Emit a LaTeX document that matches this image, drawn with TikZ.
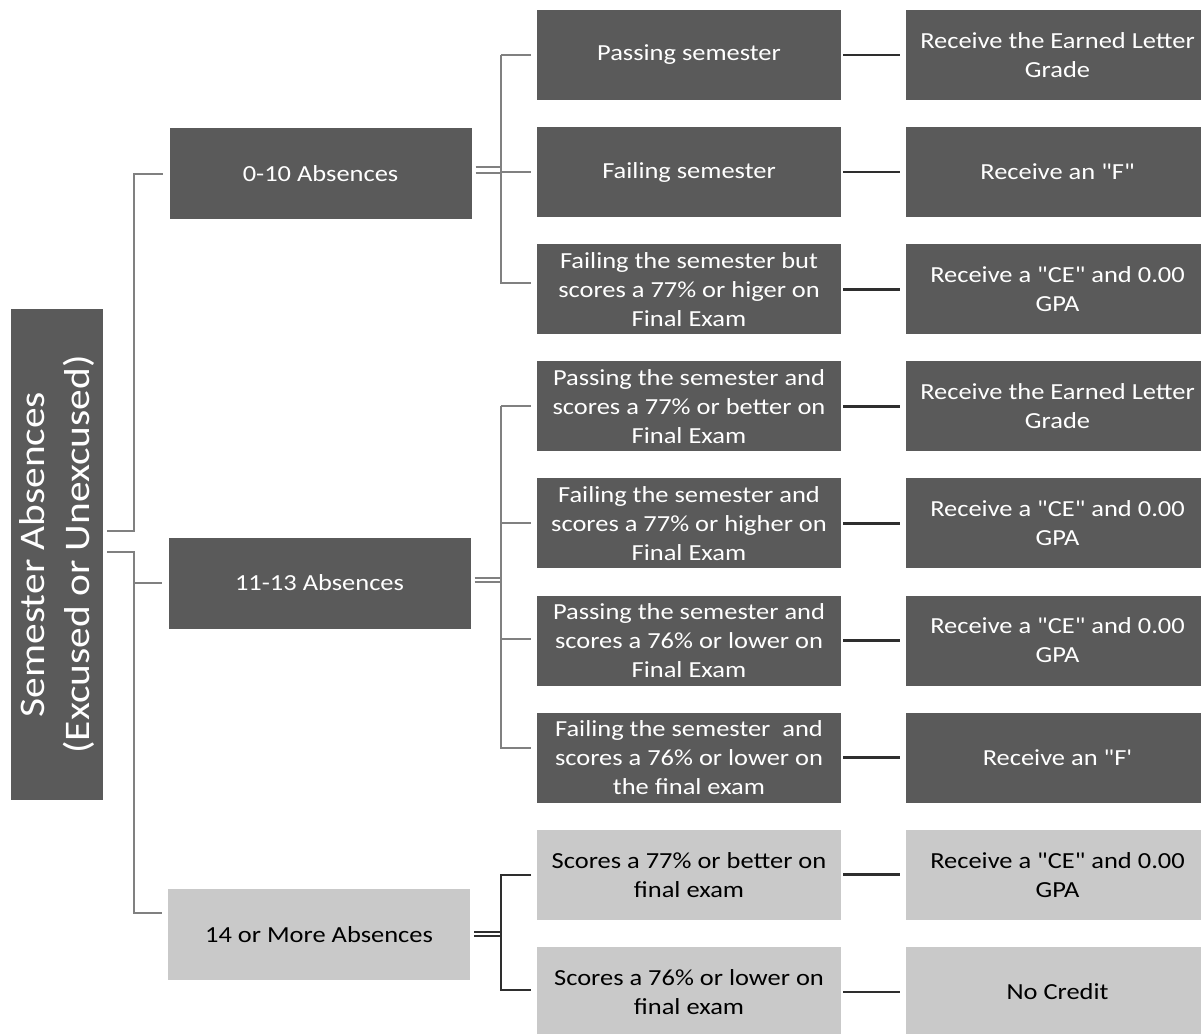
\documentclass[tikz,border=0pt]{standalone}
\usepackage{fontspec}
\setmainfont{Carlito}[FakeStretch=1.15, Ligatures=TeXOff]
\usetikzlibrary{calc}
\definecolor{boxdark}{HTML}{5A5A5A}
\definecolor{boxlight}{HTML}{C9C9C9}
\definecolor{treegray}{HTML}{808080}
\definecolor{linkdark}{HTML}{2E2E2E}
\begin{document}
\begin{tikzpicture}[x=1pt, y=-1pt,
  tree/.style={draw=treegray, line width=2pt},
  treedark/.style={draw=linkdark, line width=2pt},
  link/.style={draw=linkdark, line width=2.6pt},
  dbox/.style={fill=boxdark, text=white, minimum width=304pt, minimum height=90pt,
    inner sep=0pt, align=center, font={\fontsize{23}{29}\selectfont}},
  lbox/.style={dbox, fill=boxlight, text=black},
  midbox/.style={dbox, minimum width=302pt, minimum height=91pt},
  midlbox/.style={lbox, minimum width=302pt, minimum height=91pt},
  rootbox/.style={fill=boxdark, text=white, minimum width=92pt, minimum height=491pt,
    inner sep=0pt},
]
\useasboundingbox (0,0) rectangle (1201,1033);
\fill[white] (0,0) rectangle (1201,1033);
\clip (0,0) rectangle (1201,1033);

% root
\node[rootbox] (root) at (57,554.5) {};
\node[rotate=90, text=white, align=center, font={\fontsize{36}{45}\selectfont}] (roottext) at (root.center)
  {Semester Absences\\(Excused or Unexcused)};

% level 1
\node[midbox]  (a) at (320.5,173.5) {0-10 Absences};
\node[midbox]  (b) at (319.5,583) {11-13 Absences};
\node[midlbox] (c) at (319,934.5) {14 or More Absences};

% level 2
\node[dbox] (p0) at (689,55)    {Passing semester};
\node[dbox] (p1) at (689,172.1) {Failing semester};
\node[dbox] (p2) at (689,289.2) {Failing the semester but\\scores a 77\% or higer on\\Final Exam};
\node[dbox] (p3) at (689,406.3) {Passing the semester and\\scores a 77\% or better on\\Final Exam};
\node[dbox] (p4) at (689,523.4) {Failing the semester and\\scores a 77\% or higher on\\Final Exam};
\node[dbox] (p5) at (689,640.5) {Passing the semester and\\scores a 76\% or lower on\\Final Exam};
\node[dbox] (p6) at (689,757.6) {Failing the semester\ \ and\\scores a 76\% or lower on\\the final exam};
\node[lbox] (p7) at (689,874.7) {Scores a 77\% or better on\\final exam};
\node[lbox] (p8) at (689,991.8) {Scores a 76\% or lower on\\final exam};

% level 3
\node[dbox] (q0) at (1057.5,55)    {Receive the Earned Letter\\Grade};
\node[dbox] (q1) at (1057.5,172.1) {Receive an "F"};
\node[dbox] (q2) at (1057.5,289.2) {Receive a "CE" and 0.00\\GPA};
\node[dbox] (q3) at (1057.5,406.3) {Receive the Earned Letter\\Grade};
\node[dbox] (q4) at (1057.5,523.4) {Receive a "CE" and 0.00\\GPA};
\node[dbox] (q5) at (1057.5,640.5) {Receive a "CE" and 0.00\\GPA};
\node[dbox] (q6) at (1057.5,757.6) {Receive an "F'};
\node[lbox] (q7) at (1057.5,874.7) {Receive a "CE" and 0.00\\GPA};
\node[lbox] (q8) at (1057.5,991.8) {No Credit};

% root connectors
\coordinate (rv) at (134,0);
\coordinate (r1) at (107,531);
\coordinate (r2) at (107,552);
\draw[tree] (r1) -| (rv |- a.west) -- ($(a.west)+(-6,0)$);
\draw[tree] (r2) -| (134,913) -- (162,913);
\draw[tree] (134,583) -- ($(b.west)+(-6,0)$);

% 0-10 connectors
\coordinate (av) at (501,0);
\draw[tree] ($(a.east)+(4,-7)$) -- (av |- 0,166.5);
\draw[tree] ($(a.east)+(4,-1)$) -- (av |- 0,172.5);
\draw[tree] (av |- p0.west) -- (av |- 0,283) -- (531,283);
\draw[tree] (av |- p0.west) -- ($(p0.west)+(-6,0)$);
\draw[tree] (av |- p1.west) -- ($(p1.west)+(-6,0)$);

% 11-13 connectors
\draw[tree] ($(b.east)+(4,-5.5)$) -- (av |- 0,577.5);
\draw[tree] ($(b.east)+(4,-1)$) -- (av |- 0,582);
\draw[tree] (av |- p3.west) -- (av |- 0,748) -- (531,748);
\draw[tree] (av |- p3.west) -- ($(p3.west)+(-6,0)$);
\draw[tree] (av |- p4.west) -- ($(p4.west)+(-6,0)$);
\draw[tree] (501,639) -- (531,639);

% 14+ connectors
\draw[treedark] ($(c.east)+(4,-2.5)$) -- (av |- 0,932);
\draw[treedark] ($(c.east)+(4,1.5)$) -- (av |- 0,936);
\draw[treedark] (531,875) -- (501,875) -- (501,990) -- (531,990);

% level 2 -> level 3
\foreach \i in {0,...,8}{
  \draw[link] ($(p\i.east)+(2,0)$) -- ($(q\i.west)+(-5,0)$);
}
\end{tikzpicture}
\end{document}
